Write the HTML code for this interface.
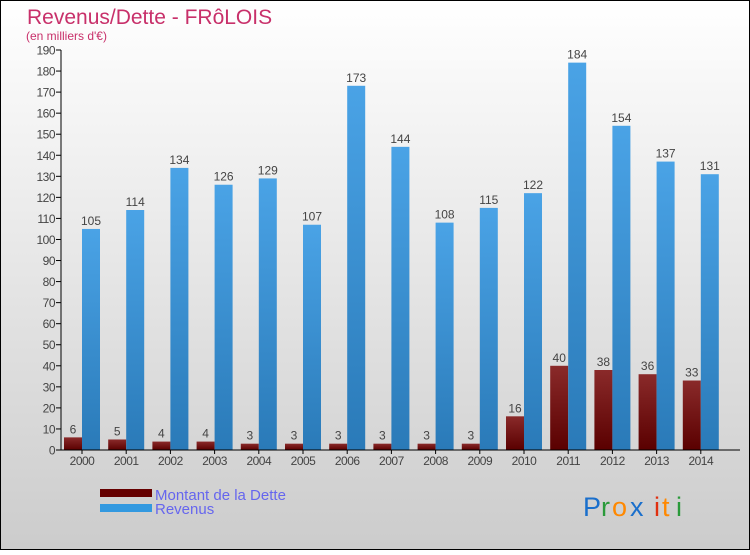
<!DOCTYPE html>
<html><head><meta charset="utf-8"><style>
body{margin:0;width:750px;height:550px;overflow:hidden;font-family:"Liberation Sans",sans-serif}
</style></head><body>
<svg id="chart" width="750" height="550" xmlns="http://www.w3.org/2000/svg">
<defs>
<linearGradient id="bg" x1="0" y1="0" x2="0" y2="1"><stop offset="0" stop-color="#ffffff"/><stop offset="1" stop-color="#cccccc"/></linearGradient>
<linearGradient id="gd" x1="0" y1="0" x2="0" y2="1"><stop offset="0" stop-color="#8a2a2a"/><stop offset="1" stop-color="#5a0000"/></linearGradient>
<linearGradient id="gr" x1="0" y1="0" x2="0" y2="1"><stop offset="0" stop-color="#4aa3e6"/><stop offset="1" stop-color="#2a7ab8"/></linearGradient>
</defs>
<rect x="0.5" y="0.5" width="749" height="549" fill="url(#bg)" stroke="#000"/>
<text x="27" y="24" font-size="21" fill="#c8306a">Revenus/Dette - FRôLOIS</text>
<text x="26" y="40" font-size="12" fill="#c8306a">(en milliers d'€)</text>
<g id="plot"></g>
<g>
<rect x="100" y="489" width="52" height="8" fill="#660000"/>
<text x="155" y="500" font-size="15" fill="#6666ee">Montant de la Dette</text>
<rect x="100" y="504" width="52" height="8" fill="#3399e0"/>
<text x="155" y="514" font-size="15" fill="#6666ee">Revenus</text>
</g>
<g font-size="27">
<text x="583" y="516" fill="#1a6fcc">P</text><text x="601" y="516" fill="#2a9a3a">r</text><text x="612" y="516" fill="#ff8800">o</text><text x="630" y="516" fill="#1a6fcc">x</text><text x="654" y="516" fill="#e03010">i</text><text x="662" y="516" fill="#ff8800">t</text><text x="676" y="516" fill="#2a9a3a">i</text>
</g>
</svg>
<script>
const years=["2000","2001","2002","2003","2004","2005","2006","2007","2008","2009","2010","2011","2012","2013","2014"];
const debt=[6,5,4,4,3,3,3,3,3,3,16,40,38,36,33];
const revenue=[105,114,134,126,129,107,173,144,108,115,122,184,154,137,131];
const yTicks=[0,10,20,30,40,50,60,70,80,90,100,110,120,130,140,150,160,170,180,190];
const NS="http://www.w3.org/2000/svg";
const g=document.getElementById('plot');
const y0=450,yTop=50,yMax=190;
const yS=v=>y0-(v/yMax)*(y0-yTop);
const xC=i=>82+i*44.2;
function mk(t,a,txt){const e=document.createElementNS(NS,t);for(const k in a)e.setAttribute(k,a[k]);if(txt!=null)e.textContent=txt;g.appendChild(e);return e;}
yTicks.forEach(v=>{
 const l=mk('line',{x1:56,x2:61,y1:yS(v),y2:yS(v),stroke:'#000'});
 
 
 const t=mk('text',{x:55,y:yS(v)+4.5,'font-size':12,fill:'#444','text-anchor':'end','letter-spacing':'-0.5'},String(v));
 
 
});
years.forEach((yr,i)=>{
 const c=xC(i);
 const bd=mk('rect',{x:c-18,y:yS(debt[i]),width:18,height:y0-yS(debt[i]),fill:'url(#gd)'});
 
 
 const br=mk('rect',{x:c,y:yS(revenue[i]),width:18,height:y0-yS(revenue[i]),fill:'url(#gr)'});
 
 
 const td=mk('text',{x:c-9,y:yS(debt[i])-4,'font-size':12,fill:'#444','text-anchor':'middle'},String(debt[i]));
 
 
 const tr=mk('text',{x:c+9,y:yS(revenue[i])-4,'font-size':12,fill:'#444','text-anchor':'middle'},String(revenue[i]));
 
 
 const tk=mk('line',{x1:c,x2:c,y1:450,y2:454,stroke:'#000'});
 
 
 const tx=mk('text',{x:c,y:465,'font-size':12,fill:'#444','text-anchor':'middle','letter-spacing':'-0.5'},yr);
 
 
});
const ya=mk('line',{x1:61,x2:61,y1:50,y2:450,stroke:'#000'});


const xa=mk('line',{x1:61,x2:740,y1:450,y2:450,stroke:'#000'});


</script>
</body></html>
